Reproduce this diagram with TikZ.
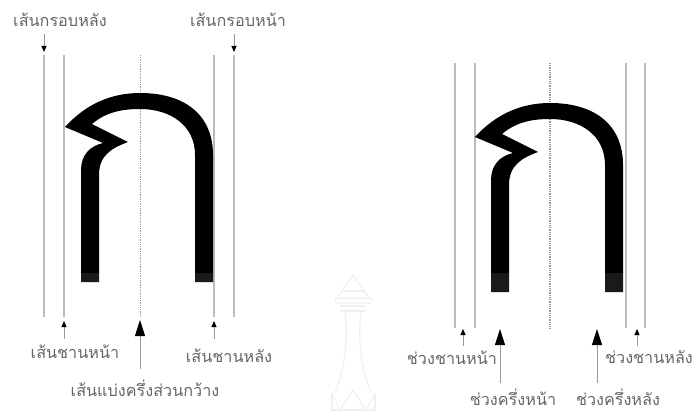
\documentclass[tikz,border=0pt]{standalone}
\usepackage{fontspec}
\usepackage{xcolor}
\setmainfont[Script=Thai]{Loma}
\usetikzlibrary{arrows.meta}
\definecolor{labelgray}{HTML}{666666}
\definecolor{guidegray}{HTML}{BBBBBB}
\definecolor{flowgray}{HTML}{999999}
\definecolor{bandgray}{HTML}{1A1A1A}
\definecolor{sealgray}{HTML}{F0F0F0}

\begin{document}
\begin{tikzpicture}[
  x=1pt, y=-1pt,
  >=Stealth,
  label/.style={text=labelgray, font=\fontsize{16.2}{18}\selectfont, inner sep=0pt},
  guide/.style={draw=guidegray, line width=1.2pt},
  midline/.style={draw=flowgray, line width=0.8pt, densely dotted},
  tinyflow/.style={draw=flowgray, line width=0.9pt, -{Stealth[length=6pt,width=5pt,inset=0pt,black]}},
  bigflow/.style={draw=flowgray, line width=0.9pt, -{Stealth[length=16pt,width=10pt,inset=0pt,black]}},
  seal/.style={draw=sealgray, line width=1.2pt}
]
  \useasboundingbox (0,0) rectangle (695,412);

  % left guide lines
  \foreach \px in {44,64,214,234}
    \draw[guide] (\px,55) -- (\px,317);
  \draw[midline] (140,55) -- (140,317);

  % right guide lines
  \foreach \px in {455,475,626,645}
    \draw[guide] (\px,63) -- (\px,328);
  \draw[midline, line width=1.1pt] (550,63) -- (550,328);

  % the letter, left and right
  \foreach \dx/\dy/\low in {0/0/282,410/10/282} {
    \begin{scope}[shift={(\dx,\dy)}]
      \fill[black] (65,127) .. controls (85,105) and (110,93) .. (140,93)
        .. controls (185,93) and (213,115) .. (213,155) -- (213,\low) -- (195,\low)
        -- (195,155) .. controls (195,125) and (170,109) .. (140,109)
        .. controls (120,109) and (105,113) .. (92,124) -- (128,142)
        .. controls (112,148) and (99,155) .. (99,175) -- (99,\low) -- (81,\low)
        -- (81,170) .. controls (81,155) and (90,146) .. (103,143) -- cycle;
      \fill[bandgray] (81,{\low-9-\dy}) rectangle (99,\low);
      \fill[bandgray] (195,{\low-9-\dy}) rectangle (213,\low);
    \end{scope}
  }

  % labels
  \node[label] (backframe) at (60,20) {เส้นกรอบหลัง};
  \node[label] (frontframe) at (238,20) {เส้นกรอบหน้า};
  \node[label] (frontedge) at (75,352) {เส้นชานหน้า};
  \node[label] (backedge) at (229,356) {เส้นชานหลัง};
  \node[label] (halfline) at (145,388) {เส้นแบ่งครึ่งส่วนกว้าง};
  \node[label] (frontgap) at (452,358) {ช่วงชานหน้า};
  \node[label] (fronthalf) at (513,397) {ช่วงครึ่งหน้า};
  \node[label] (backhalf) at (618,397) {ช่วงครึ่งหลัง};
  \node[label] (backgap) at (649,357) {ช่วงชานหลัง};

  % arrow ends
  \coordinate (a1) at (44,34);  \coordinate (b1) at (44,52);
  \coordinate (a2) at (234,34); \coordinate (b2) at (234,52);
  \coordinate (a3) at (64,339); \coordinate (b3) at (64,321);
  \coordinate (a4) at (214,339); \coordinate (b4) at (214,321);
  \coordinate (a5) at (140,369); \coordinate (b5) at (140,320);
  \coordinate (a6) at (463,346); \coordinate (b6) at (463,329);
  \coordinate (a7) at (637,346); \coordinate (b7) at (637,329);
  \coordinate (a8) at (500,383); \coordinate (b8) at (500,329);
  \coordinate (a9) at (597,383); \coordinate (b9) at (597,329);

  \foreach \n in {1,2,3,4,6,7}
    \draw[tinyflow] (a\n) -- (b\n);
  \foreach \n in {5,8,9}
    \draw[bigflow] (a\n) -- (b\n);

  % pale seal behind the page
  \draw[seal] (353,275) -- (337,298) -- (369,298) -- cycle;
  \draw[seal] (342,291) -- (364,291);
  \draw[seal, rounded corners=2pt] (335,298) rectangle (372,303);
  \draw[seal] (340,306) -- (366,306);
  \draw[seal] (340,311) -- (366,311);
  \draw[seal] (345,311) .. controls (348,340) and (346,365) .. (335,393);
  \draw[seal] (361,311) .. controls (358,340) and (360,365) .. (371,393);
  \draw[seal] (332,393) -- (340,410) -- (353,390) -- (366,410) -- (375,393);
  \draw[seal] (332,393) -- (332,410) -- (375,410) -- (375,393);
\end{tikzpicture}
\end{document}
